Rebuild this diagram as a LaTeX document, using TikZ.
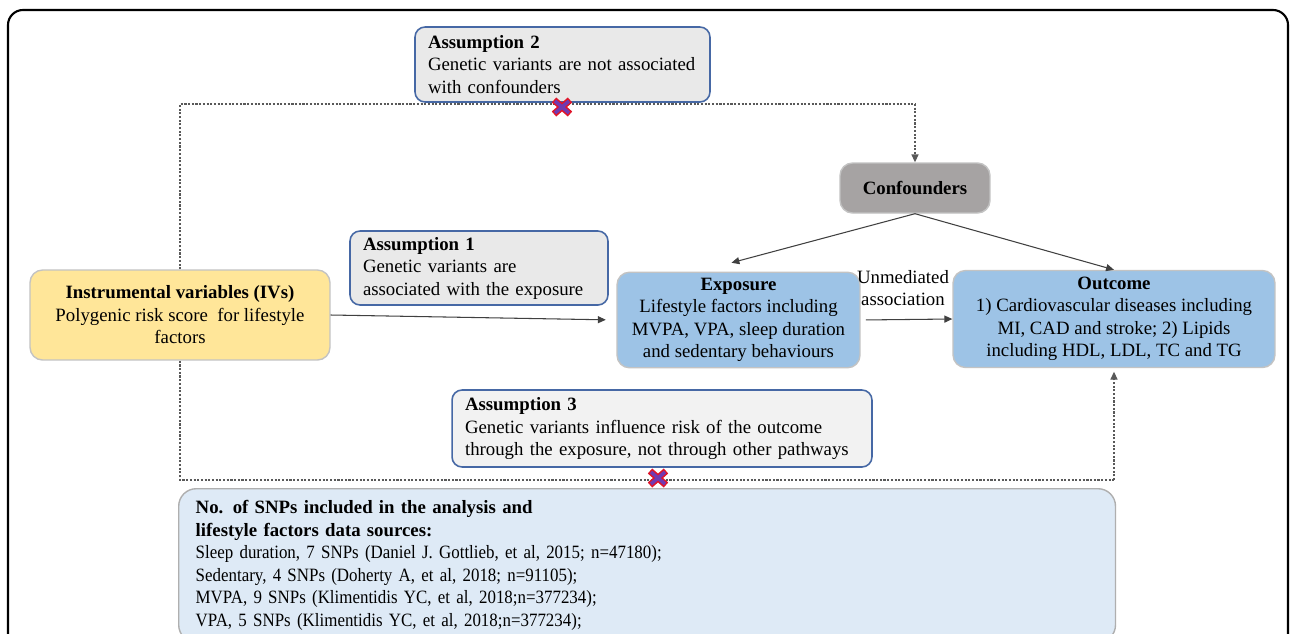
\documentclass[tikz,border=0pt]{standalone}
\usepackage{fontspec}
\setmainfont{Liberation Serif}
\newfontfamily\slimserif[FakeStretch=0.9]{Liberation Serif}
\usetikzlibrary{arrows.meta}
\definecolor{asmfill}{RGB}{233,233,233}
\definecolor{asmline}{RGB}{70,104,165}
\definecolor{conffill}{RGB}{166,163,163}
\definecolor{ivfill}{RGB}{255,230,153}
\definecolor{bluefill}{RGB}{157,195,230}
\definecolor{snpfill}{RGB}{222,234,246}
\definecolor{softline}{RGB}{195,195,195}
\definecolor{xred}{RGB}{225,20,40}
\definecolor{xviolet}{RGB}{112,58,178}
\tikzset{
  txt/.style={font=\fontsize{10.7pt}{12.8pt}\selectfont},
  asmbox/.style={txt, draw=asmline, fill=asmfill, line width=0.9pt, rounded corners=0.2cm,
    align=left, inner xsep=0.26cm, inner ysep=0pt},
  mainbox/.style={txt, draw=softline, line width=0.8pt, rounded corners=0.25cm, align=center},
  link/.style={draw=black!75, line width=0.6pt, -{Triangle[length=4.5pt,width=4pt]}},
  dotlink/.style={draw=black!65, line width=0.7pt, dash pattern=on 1.2pt off 0.9pt},
  redcross/.pic={
    \draw[xred, line width=3.8pt] (-8,-7)--(8,7) (-8,7)--(8,-7);
    \draw[xviolet, line width=2pt] (-7,-6)--(7,6) (-7,6)--(7,-6);
  }
}
\begin{document}
\begin{tikzpicture}[x=0.02cm,y=-0.02cm]
\clip (0,0) rectangle (1292,633);
\fill[white] (0,0) rectangle (1292,633);
% outer frame
\draw[black, line width=1.2pt, rounded corners=0.3cm] (8,10) rectangle (1288,700);

% assumptions
\node[asmbox, text width=5.38cm, minimum height=1.5cm] (asm2) at (562.5,64.5)
  {\textbf{Assumption 2}\\Genetic variants are not associated\\with confounders};
\node[asmbox, text width=4.64cm, minimum height=1.48cm] (asm1) at (479,268)
  {\textbf{Assumption 1}\\Genetic variants are\\associated with the exposure};
\node[asmbox, fill=asmfill!60, text width=7.88cm, minimum height=1.54cm] (asm3) at (662,428.5)
  {\textbf{Assumption 3}\\Genetic variants influence risk of the outcome\\through the exposure, not through other pathways};

% main boxes
\node[mainbox, fill=conffill, minimum width=3cm, minimum height=1cm] (conf) at (915,188)
  {\textbf{Confounders}};
\node[mainbox, fill=ivfill, minimum width=6cm, minimum height=1.8cm] (iv) at (180,315)
  {\textbf{Instrumental variables (IVs)}\\Polygenic risk score\ \ for lifestyle\\factors};
\node[mainbox, fill=bluefill, minimum width=4.86cm, minimum height=1.88cm] (expo) at (738.5,320)
  {\textbf{Exposure}\\Lifestyle factors including\\MVPA, VPA, sleep duration\\and sedentary behaviours};
\node[mainbox, fill=bluefill, minimum width=6.44cm, minimum height=1.94cm] (outc) at (1114,319)
  {\textbf{Outcome}\\1) Cardiovascular diseases including\\MI, CAD and stroke; 2) Lipids\\including HDL, LDL, TC and TG};
\node[txt, align=center, inner sep=0pt] (unmed) at (903,288) {Unmediated\\association};

% data sources
\node[txt, draw=softline!90!black, fill=snpfill, line width=0.8pt, rounded corners=0.35cm,
  anchor=north west, align=left, text width=18.06cm, inner xsep=0.34cm, inner ysep=0.24cm] (snp) at (178,488)
  {\textbf{No. of SNPs included in the analysis and}\\
   \textbf{lifestyle factors data sources:}\\
   \slimserif Sleep duration, 7 SNPs (Daniel J. Gottlieb, et al, 2015; n=47180);\\
   \slimserif Sedentary, 4 SNPs (Doherty A, et al, 2018; n=91105);\\
   \slimserif MVPA, 9 SNPs (Klimentidis YC, et al, 2018;n=377234);\\
   \slimserif VPA, 5 SNPs (Klimentidis YC, et al, 2018;n=377234);};

% dotted paths
\coordinate (top) at (0,104);
\coordinate (bot) at (0,480);
\draw[dotlink] (iv.north) -- (iv.north |- top) -- (conf.north |- top);
\draw[dotlink, -{Triangle[length=4.5pt,width=4pt]}] (conf.north |- top) -- (conf.north);
\draw[dotlink] (iv.south) -- (iv.south |- bot) -- (outc.south |- bot);
\draw[dotlink, -{Triangle[length=4.5pt,width=4pt]}] (outc.south |- bot) -- ([yshift=-2pt]outc.south);

% solid arrows
\draw[link] (conf.south) -- ([xshift=-4pt,yshift=5pt]expo.north);
\draw[link] (conf.south) -- (outc.north);
\draw[link, shorten >=6pt] (iv.east) -- (expo.west);
\draw[link, shorten <=3pt] (expo.east) -- (outc.west);

% broken links
\pic at (562,107) {redcross};
\pic at (658,478) {redcross};
\end{tikzpicture}
\end{document}
